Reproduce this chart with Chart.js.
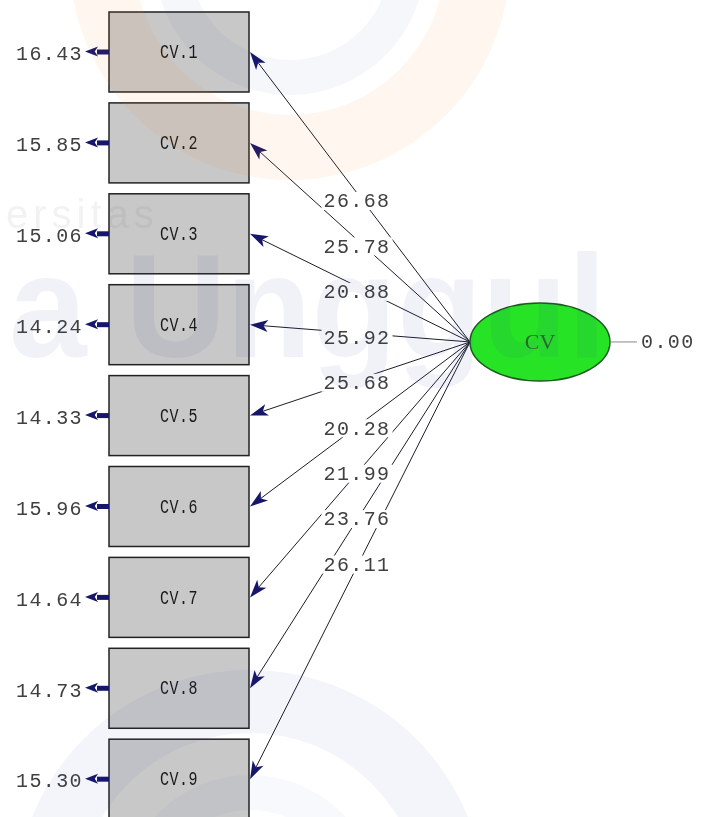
<!DOCTYPE html>
<html>
<head>
<meta charset="utf-8">
<script src="https://cdn.jsdelivr.net/npm/chart.js@4.4.1/dist/chart.umd.min.js"></script>
<style>
	html, body { margin: 0; padding: 0; background: #fff; }
	#wrap { width: 703px; height: 817px; }
</style>
</head>
<body>
<div id="wrap"><canvas id="pathChart" width="703" height="817"></canvas></div>
<script>
// Measurement model: observed indicators of the latent variable CV
const indicators = ['CV.1', 'CV.2', 'CV.3', 'CV.4', 'CV.5', 'CV.6', 'CV.7', 'CV.8', 'CV.9'];
const errorVariances = [16.43, 15.85, 15.06, 14.24, 14.33, 15.96, 14.64, 14.73, 15.30];
const tValues = [26.68, 25.78, 20.88, 25.92, 25.68, 20.28, 21.99, 23.76, 26.11];
const latentNames = ['CV'];
const latentVariances = [0.00];

// Layout (x in pixel-like units, y in indicator rows)
const BOX_LEFT = 109, BOX_RIGHT = 249, BOX_HALF = 0.44;
const LATENT_X = 540, LATENT_ROW = 3.19, LATENT_RX = 70, LATENT_RY = 39;

const numFont = '20px "Liberation Mono", monospace';
const navy = '#16166a';

function arrowHead(ctx, tx, ty, fx, fy, len, half) {
	const a = Math.atan2(ty - fy, tx - fx);
	ctx.beginPath();
	ctx.moveTo(tx, ty);
	ctx.lineTo(tx - len * Math.cos(a) + half * Math.sin(a), ty - len * Math.sin(a) - half * Math.cos(a));
	ctx.lineTo(tx - len * 0.75 * Math.cos(a), ty - len * 0.75 * Math.sin(a));
	ctx.lineTo(tx - len * Math.cos(a) - half * Math.sin(a), ty - len * Math.sin(a) + half * Math.cos(a));
	ctx.closePath();
	ctx.fill();
}

function ring(ctx, cx, cy, rOut, rIn) {
	ctx.beginPath();
	ctx.arc(cx, cy, rOut, 0, Math.PI * 2);
	ctx.arc(cx, cy, rIn, 0, Math.PI * 2, true);
	ctx.fill();
}

// faint university logo watermark lying over the diagram
function drawWatermark(ctx) {
	ctx.save();
	ctx.globalAlpha = 0.07;
	ctx.fillStyle = '#f07a1a';
	ring(ctx, 290, -40, 220, 155);
	ctx.fillStyle = '#3050a8';
	ctx.globalAlpha = 0.045;
	ring(ctx, 290, -40, 135, 100);
	ctx.globalAlpha = 0.055;
	ring(ctx, 250, 905, 235, 172);
	ctx.globalAlpha = 0.035;
	ring(ctx, 250, 905, 130, 95);

	ctx.globalAlpha = 0.065;
	ctx.fillStyle = '#2a3f8f';
	ctx.font = 'bold 147px "Liberation Sans", sans-serif';
	ctx.textBaseline = 'alphabetic';
	ctx.textAlign = 'left';
	ctx.save();
	ctx.translate(9, 357);
	ctx.scale(0.95, 1);
	ctx.fillText('a Unggul', 0, 0);
	ctx.restore();
	ctx.globalAlpha = 0.08;
	ctx.fillStyle = '#555';
	ctx.font = '40px "Liberation Sans", sans-serif';
	ctx.letterSpacing = '5px';
	ctx.fillText('ersitas', 6, 228);
	ctx.restore();
}

const pathDiagram = {
	id: 'pathDiagram',
	afterDatasetsDraw(chart) {
		const ctx = chart.ctx;
		const xs = chart.scales.x, ys = chart.scales.y;
		const px = v => xs.getPixelForValue(v);
		const py = v => ys.getPixelForValue(v);
		const sx = px(LATENT_X - LATENT_RX), sy = py(LATENT_ROW);
		ctx.save();

		// loading paths (latent -> indicators)
		const labels = [];
		indicators.forEach((name, i) => {
			const tx = px(BOX_RIGHT) + 1, ty = py(i);
			const a = Math.atan2(ty - sy, tx - sx);
			ctx.strokeStyle = '#1c1c2c';
			ctx.lineWidth = 1;
			ctx.beginPath();
			ctx.moveTo(sx, sy);
			ctx.lineTo(tx - 13 * Math.cos(a), ty - 13 * Math.sin(a));
			ctx.stroke();
			ctx.fillStyle = navy;
			arrowHead(ctx, tx, ty, sx, sy, 18, 6);
			labels.push({ x: (sx + tx) / 2 - 3, y: (sy + ty) / 2 + 4, text: tValues[i].toFixed(2) });
		});
		ctx.font = numFont;
		ctx.letterSpacing = '1.4px';
		ctx.textAlign = 'center';
		ctx.textBaseline = 'middle';
		labels.forEach(l => {
			const w = ctx.measureText(l.text).width + 4;
			ctx.fillStyle = '#fff';
			ctx.fillRect(l.x - w / 2, l.y - 9, w, 18);
		});
		labels.forEach(l => {
			ctx.fillStyle = '#404040';
			ctx.fillText(l.text, l.x, l.y + 1);
		});

		// indicator boxes with error variances
		indicators.forEach((name, i) => {
			const top = py(i - BOX_HALF), bot = py(i + BOX_HALF);
			const l = px(BOX_LEFT), r = px(BOX_RIGHT), cy = py(i);
			ctx.fillStyle = '#c8c8c8';
			ctx.fillRect(l, top, r - l, bot - top);
			ctx.strokeStyle = '#222';
			ctx.lineWidth = 1.5;
			ctx.strokeRect(l, top, r - l, bot - top);

			ctx.save();
			ctx.translate((l + r) / 2, cy + 1);
			ctx.scale(1, 1.3);
			ctx.fillStyle = '#1a1a1a';
			ctx.font = '15px "Liberation Mono", monospace';
			ctx.letterSpacing = '0.5px';
			ctx.textAlign = 'center';
			ctx.fillText(name, 0, 0);
			ctx.restore();

			// error arrow
			ctx.fillStyle = navy;
			ctx.fillRect(l - 12, cy - 2.5, 12, 5);
			arrowHead(ctx, l - 24, cy - 0.5, l, cy - 0.5, 13, 5);
			ctx.font = numFont;
			ctx.letterSpacing = '1.4px';
			ctx.textAlign = 'right';
			ctx.fillStyle = '#404040';
			ctx.fillText(errorVariances[i].toFixed(2), l - 26, cy + 3);
		});

		// latent variable
		const cx = px(LATENT_X);
		ctx.beginPath();
		ctx.ellipse(cx, sy, LATENT_RX, LATENT_RY, 0, 0, Math.PI * 2);
		ctx.fillStyle = '#26e326';
		ctx.fill();
		ctx.strokeStyle = '#1d5a1d';
		ctx.lineWidth = 1.5;
		ctx.stroke();
		ctx.fillStyle = '#2c6a2c';
		ctx.font = '22px "Liberation Serif", serif';
		ctx.letterSpacing = '0px';
		ctx.textAlign = 'center';
		ctx.fillText(latentNames[0], cx, sy + 1);

		ctx.strokeStyle = '#888';
		ctx.lineWidth = 1;
		ctx.beginPath();
		ctx.moveTo(cx + LATENT_RX, sy);
		ctx.lineTo(cx + LATENT_RX + 27, sy);
		ctx.stroke();
		ctx.font = numFont;
		ctx.letterSpacing = '1.4px';
		ctx.textAlign = 'left';
		ctx.fillStyle = '#404040';
		ctx.fillText(latentVariances[0].toFixed(2), cx + LATENT_RX + 31, sy + 1);
		ctx.restore();

		drawWatermark(ctx);
	}
};

new Chart(document.getElementById('pathChart'), {
	type: 'scatter',
	data: {
		datasets: [{
			label: 'Indicators',
			data: indicators.map((n, i) => ({ x: (BOX_LEFT + BOX_RIGHT) / 2, y: i })),
			pointRadius: 0
		}, {
			label: 'Latent',
			data: [{ x: LATENT_X, y: LATENT_ROW }],
			pointRadius: 0
		}]
	},
	options: {
		responsive: false,
		animation: false,
		devicePixelRatio: 1,
		layout: { padding: 0 },
		plugins: { legend: { display: false }, tooltip: { enabled: false } },
		scales: {
			x: { type: 'linear', min: 0, max: 703, display: false },
			y: { type: 'linear', min: -0.572, max: 8.416, reverse: true, display: false }
		}
	},
	plugins: [pathDiagram]
});
</script>
</body>
</html>
